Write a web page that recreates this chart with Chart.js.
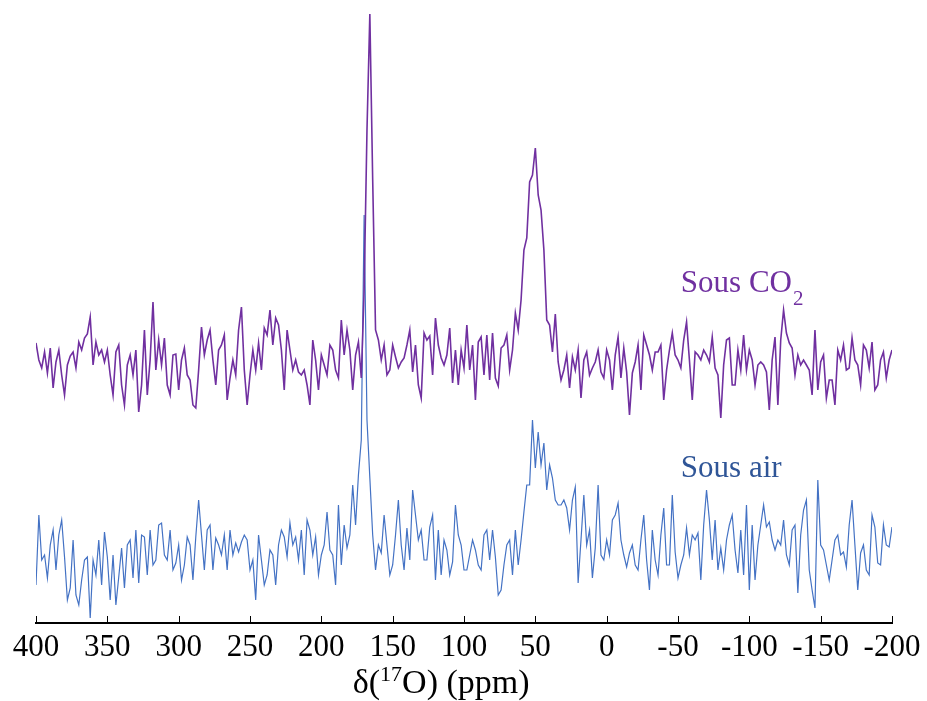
<!DOCTYPE html>
<html>
<head>
<meta charset="utf-8">
<script src="https://cdn.jsdelivr.net/npm/chart.js@4/dist/chart.umd.min.js"></script>
<style>
  html, body { margin: 0; padding: 0; background: #fff; }
  #wrap { width: 927px; height: 701px; position: relative; }
</style>
</head>
<body>
<div id="wrap"><canvas id="c" width="927" height="701"></canvas></div>
<script>
// Chemical shift sampling (ppm): first point and spacing
const ppmStart = 400;
const ppmStep = -2;

// Axis ticks (ppm)
const tickValues = [400, 350, 300, 250, 200, 150, 100, 50, 0, -50, -100, -150, -200];

// Series labels
const seriesNames = ['Sous CO', 'Sous air'];

// Intensity (arbitrary units), "Sous CO2" spectrum, 400 → -200 ppm
const sousCO2 = [
280,263,255,271,250,275,235,261,273,248,228,258,267,271,255,281,273,285,289,306,
258,281,268,273,261,273,248,228,271,278,238,218,258,268,248,273,211,238,293,228,
263,321,253,283,258,285,238,228,268,269,233,263,275,248,243,218,215,253,296,268,
283,293,263,238,273,278,288,223,245,263,248,293,316,253,218,248,273,253,280,253,
295,288,313,278,305,298,273,233,293,273,253,263,251,248,253,238,218,283,263,233,
268,258,248,278,273,253,245,303,268,293,273,233,268,281,245,333,493,609,443,293,
283,263,278,248,253,278,266,255,261,265,278,293,251,278,238,225,290,283,287,248,
305,278,265,258,268,295,240,273,238,273,255,298,253,278,223,281,286,248,288,243,
290,245,237,275,278,288,253,273,310,293,323,373,385,441,448,475,428,413,373,303,
298,271,309,261,243,253,268,235,266,253,273,225,263,271,248,255,261,273,251,245,
273,263,233,268,286,245,275,251,208,250,261,278,233,288,278,268,253,271,271,278,
223,253,273,290,268,263,255,283,301,263,223,271,268,263,273,268,261,286,255,248,
205,258,283,285,238,238,273,253,288,253,273,263,238,258,261,258,251,213,263,286,
218,283,313,290,280,275,248,268,258,263,258,253,228,293,233,261,268,225,243,243,
218,273,263,278,253,255,285,263,258,238,278,273,255,281,233,238,263,271,245,263,
273
];

// Intensity (arbitrary units), "Sous air" spectrum, 400 → -200 ppm
const sousAir = [
38,108,63,68,45,78,93,53,88,103,66,23,35,83,28,18,43,63,66,5,
63,48,83,38,91,66,23,68,18,46,75,35,78,83,45,93,40,88,86,48,
93,58,63,98,100,68,63,93,53,60,78,43,58,86,78,43,86,123,88,53,
93,98,53,85,78,68,88,53,93,68,80,71,81,88,83,53,63,23,88,63,
38,48,73,68,38,78,93,86,66,100,78,86,63,93,48,103,93,68,86,48,
68,78,111,73,68,38,118,58,98,75,88,138,98,148,183,408,203,145,88,53,
78,70,108,78,48,58,88,123,78,53,95,63,133,108,83,93,63,63,96,108,
43,93,48,83,73,48,61,118,88,78,53,53,68,83,73,58,53,88,93,63,
93,66,28,33,58,78,83,48,93,58,83,111,138,138,203,155,191,158,180,133,
158,145,123,118,118,123,115,93,123,136,40,83,128,78,93,45,75,138,68,63,
83,68,103,108,120,83,68,56,70,78,58,53,83,108,63,33,93,63,48,88,
115,58,58,128,71,45,58,68,95,68,88,83,90,43,98,133,103,63,103,53,
75,53,83,98,108,73,50,93,48,118,33,98,43,78,98,118,96,101,83,73,
83,78,103,68,58,93,98,30,88,113,123,53,33,15,143,78,73,58,43,63,
83,88,68,71,56,98,123,78,33,70,78,53,48,108,96,60,58,98,78,76,
96
];

const ppm = sousCO2.map((_, i) => ppmStart + i * ppmStep);

const PURPLE = '#7030A0';
const BLUE_LINE = '#4472C4';
const BLUE_TEXT = '#2F5597';
const SERIF = '"Liberation Serif", "Times New Roman", serif';

const annotPlugin = {
  id: 'annot',
  afterDraw(chart) {
    const { ctx, scales: { x, y }, chartArea } = chart;
    ctx.save();
    // inward (upward) tick marks
    ctx.strokeStyle = '#000';
    ctx.lineWidth = 1;
    for (const v of tickValues) {
      const px = Math.round(x.getPixelForValue(v)) + 0.5;
      ctx.beginPath();
      ctx.moveTo(px, chartArea.bottom);
      ctx.lineTo(px, chartArea.bottom - 7);
      ctx.stroke();
    }
    // series labels
    ctx.textBaseline = 'alphabetic';
    ctx.textAlign = 'left';
    ctx.font = '31px ' + SERIF;
    ctx.fillStyle = PURPLE;
    const lx = x.getPixelForValue(-52);
    const y1 = y.getPixelForValue(331);
    ctx.fillText(seriesNames[0], lx, y1);
    const w1 = ctx.measureText(seriesNames[0]).width;
    ctx.font = '21px ' + SERIF;
    ctx.fillText('2', lx + w1 + 1, y1 + 13);
    ctx.font = '31px ' + SERIF;
    ctx.fillStyle = BLUE_TEXT;
    ctx.fillText(seriesNames[1], lx, y.getPixelForValue(146));
    // axis title δ(17O) (ppm)
    ctx.fillStyle = '#000';
    const parts = [
      { t: 'δ(', f: '34px ' + SERIF, dy: 0 },
      { t: '17', f: '22px ' + SERIF, dy: -12 },
      { t: 'O) (ppm)', f: '34px ' + SERIF, dy: 0 }
    ];
    let total = 0;
    for (const p of parts) { ctx.font = p.f; p.w = ctx.measureText(p.t).width; total += p.w; }
    let cx = x.getPixelForValue(116) - total / 2;
    const by = 693;
    for (const p of parts) { ctx.font = p.f; ctx.fillText(p.t, cx, by + p.dy); cx += p.w; }
    ctx.restore();
  }
};

new Chart(document.getElementById('c'), {
  type: 'line',
  data: {
    datasets: [
      {
        label: 'Sous CO2',
        data: ppm.map((v, i) => ({ x: v, y: sousCO2[i] })),
        borderColor: PURPLE,
        borderWidth: 1.6,
        pointRadius: 0,
        tension: 0,
        fill: false
      },
      {
        label: 'Sous air',
        data: ppm.map((v, i) => ({ x: v, y: sousAir[i] })),
        borderColor: BLUE_LINE,
        borderWidth: 1.2,
        pointRadius: 0,
        tension: 0,
        fill: false
      }
    ]
  },
  options: {
    responsive: false,
    animation: false,
    devicePixelRatio: 1,
    layout: { padding: { top: 10, left: 36, right: 35, bottom: 0 } },
    plugins: { legend: { display: false }, tooltip: { enabled: false } },
    scales: {
      x: {
        type: 'linear',
        reverse: true,
        min: -200,
        max: 400,
        afterBuildTicks: (scale) => { scale.ticks = tickValues.map(v => ({ value: v })); },
        afterFit: (scale) => { scale.height = 78; },
        ticks: {
          color: '#000',
          font: { family: SERIF, size: 31 },
          padding: 6,
          maxRotation: 0,
          autoSkip: false
        },
        grid: { drawOnChartArea: false, drawTicks: false },
        border: { display: true, color: '#000', width: 2 }
      },
      y: {
        display: false,
        min: 0,
        max: 613
      }
    }
  },
  plugins: [annotPlugin]
});
</script>
</body>
</html>
